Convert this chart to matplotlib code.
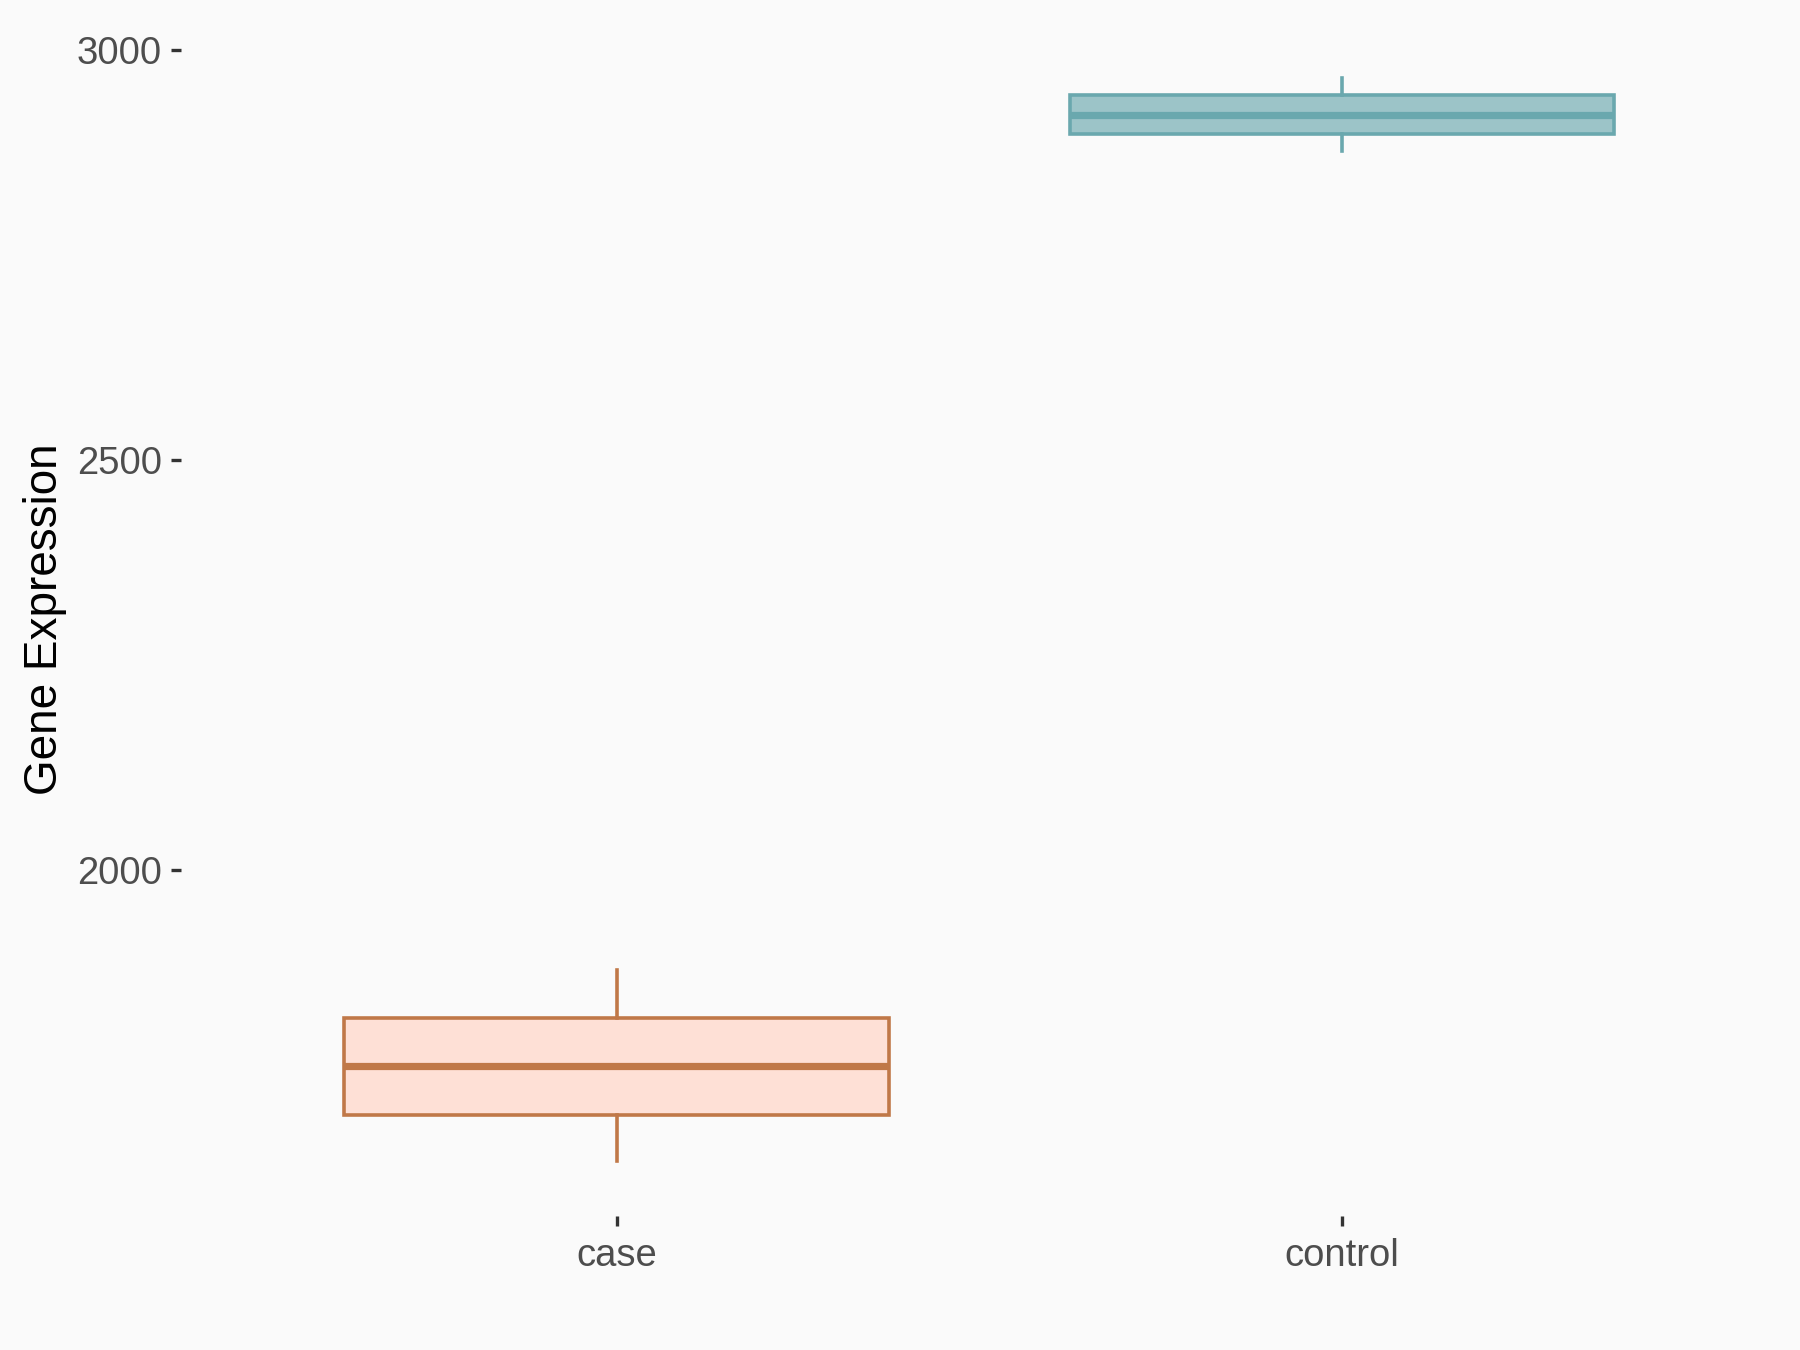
import matplotlib
matplotlib.use("Agg")
import matplotlib.pyplot as plt

# groups and box statistics
groups = ["case", "control"]
whisker_low = [1644, 2876]
q1 = [1701, 2897]
medians = [1760, 2920]
q3 = [1819, 2945]
whisker_high = [1877, 2966]

fill_colors = ["#FEE0D6", "#9CC4C8"]
edge_colors = ["#C07848", "#6AA8AE"]

plt.rcParams["font.family"] = ["Liberation Sans", "DejaVu Sans"]

fig = plt.figure(figsize=(18, 13.5), dpi=100, facecolor="#FAFAFA")
ax = fig.add_axes([0.1007, 0.0996, 0.8867, 0.8830])
ax.set_facecolor("#FAFAFA")

stats = []
for i, g in enumerate(groups):
    stats.append({
        "label": g,
        "whislo": whisker_low[i],
        "q1": q1[i],
        "med": medians[i],
        "q3": q3[i],
        "whishi": whisker_high[i],
        "fliers": [],
    })

parts = ax.bxp(stats, positions=[1, 2], widths=0.75, patch_artist=True,
               showcaps=False, showfliers=False)
for i in range(len(groups)):
    parts["boxes"][i].set_facecolor(fill_colors[i])
    parts["boxes"][i].set_edgecolor(edge_colors[i])
    parts["boxes"][i].set_linewidth(2.6)
    parts["medians"][i].set_color(edge_colors[i])
    parts["medians"][i].set_linewidth(5.2)
    for w in parts["whiskers"][2 * i:2 * i + 2]:
        w.set_color(edge_colors[i])
        w.set_linewidth(2.6)

ax.set_xlim(0.4, 2.6)
ax.set_ylim(1578, 3032)
ax.set_yticks([2000, 2500, 3000])
ax.set_xticks([1, 2])
ax.set_xticklabels(groups)

for s in ax.spines.values():
    s.set_visible(False)

ax.tick_params(axis="both", colors="#333333", length=7, width=2.4,
               labelsize=27.5, labelcolor="#4D4D4D", pad=7)
ax.tick_params(axis="x", pad=9)
ax.set_ylabel("Gene Expression", fontsize=33, color="black", labelpad=7)

fig.savefig("out.png", dpi=100, facecolor="#FAFAFA")
